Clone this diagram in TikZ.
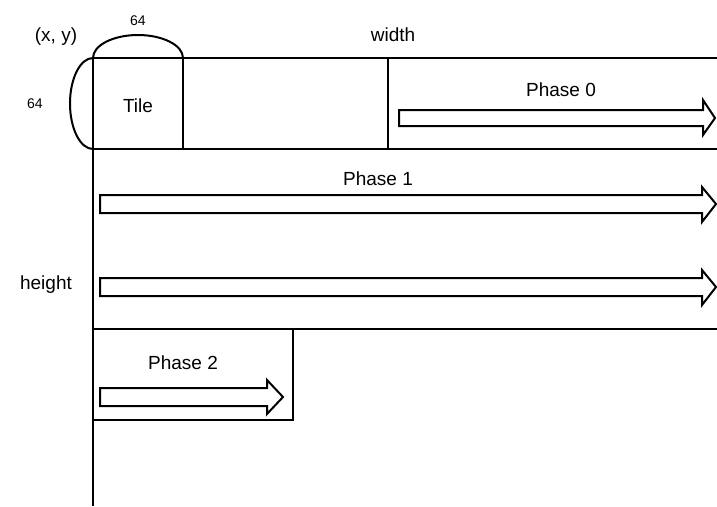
\documentclass[tikz,border=0pt]{standalone}
\usepackage{fontspec}
\setmainfont{Liberation Sans}
\begin{document}
\begin{tikzpicture}[x=1pt,y=-1pt,
  line/.style={line width=2pt},
  lbl/.style={inner sep=0pt,anchor=base,font=\fontsize{19}{21}\selectfont},
  small/.style={inner sep=0pt,anchor=base,font=\fontsize{14}{16}\selectfont},
  fatarrow/.style={line width=2pt,line join=miter,fill=white}]
\useasboundingbox (0,0) rectangle (717,506);
% frame lines
\draw[line] (93,506) -- (93,58) -- (717,58);
\draw[line] (93,149) -- (717,149);
\draw[line] (183,58) -- (183,149);
\draw[line] (388,58) -- (388,149);
\draw[line] (93,329) -- (717,329);
\draw[line] (93,420) -- (293,420) -- (293,329);
% arcs
\draw[line] (93,58) arc[start angle=180,end angle=360,x radius=45,y radius=23];
\draw[line] (93,149) arc[start angle=90,end angle=270,x radius=23,y radius=45.5];
% arrows
\draw[fatarrow] (399,110) -- (703,110) -- (703,100) -- (715,118) -- (703,135) -- (703,126) -- (399,126) -- cycle;
\draw[fatarrow] (100,195) -- (702,195) -- (702,187) -- (716,204) -- (702,222) -- (702,213) -- (100,213) -- cycle;
\draw[fatarrow] (100,278) -- (702,278) -- (702,270) -- (716,287) -- (702,305) -- (702,296) -- (100,296) -- cycle;
\draw[fatarrow] (100,388) -- (267,388) -- (267,380) -- (283,397) -- (267,414) -- (267,406) -- (100,406) -- cycle;
% labels
\node[lbl] (xy) at (56,41) {(x, y)};
\node[small] (w64) at (138,25) {64};
\node[small] (h64) at (35,108) {64};
\node[lbl] (tile) at (138,112) {Tile};
\node[lbl] (width) at (393,41) {width};
\node[lbl] (height) at (46,289) {height};
\node[lbl] (p0) at (561,96) {Phase 0};
\node[lbl] (p1) at (378,185) {Phase 1};
\node[lbl] (p2) at (183,369) {Phase 2};
\end{tikzpicture}
\end{document}
